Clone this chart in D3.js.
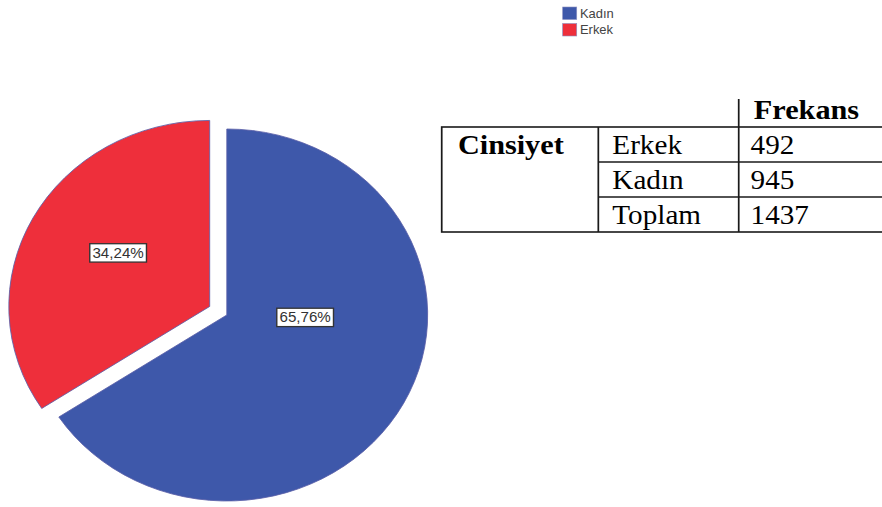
<!DOCTYPE html>
<html>
<head>
<meta charset="utf-8">
<script src="https://cdn.jsdelivr.net/npm/d3@7"></script>
<style>
  html, body { margin: 0; padding: 0; background: #fff; }
  #chart svg { display: block; }
</style>
</head>
<body>
<div id="chart"></div>
<script>
// data
const categories = ["Kadın", "Erkek"];
const counts = [945, 492];
const colors = ["#3e58aa", "#ee2f3b"];
const exploded = ["Erkek"];

const tableGroup = "Cinsiyet";
const tableHeader = "Frekans";
const tableRows = ["Erkek", "Kadın", "Toplam"];
const tableValues = [492, 945, 1437];

let width = 882,
    height = 507,
    stretch = 1.08,          // the original picture is a bit wider than tall
    vw = width / stretch;

const svg = d3.select("#chart")
  .append("svg")
  .attr("width", width)
  .attr("height", height)
  .attr("viewBox", [0, 0, vw, height])
  .attr("preserveAspectRatio", "none");

const data = categories.map((c, i) => ({ name: c, count: counts[i], color: colors[i] }));
const total = d3.sum(data, d => d.count);
const pct = v => d3.format(".2f")(v * 100).replace(".", ",") + "%";

// ---- pie
let cx = 210, cy = 315, r = 186, explode = 18;

const pie = d3.pie().sort(null).value(d => d.count);
const arc = d3.arc().innerRadius(0).outerRadius(r);
const arcs = pie(data);

const off = d => {
  if (!exploded.includes(d.data.name)) return [0, 0];
  const a = (d.startAngle + d.endAngle) / 2;
  return [Math.sin(a) * explode, -Math.cos(a) * explode];
};

const g = svg.append("g").attr("transform", `translate(${cx},${cy})`);

g.selectAll("path")
  .data(arcs)
  .join("path")
  .attr("transform", d => `translate(${off(d)})`)
  .attr("d", arc)
  .attr("fill", d => d.data.color)
  .attr("stroke", "#5a5ea8")
  .attr("stroke-width", 0.8);

// label spots: SPSS puts the big slice's label nearer the middle
const labelSpot = d => {
  const [ox, oy] = off(d);
  let a = (d.startAngle + d.endAngle) / 2 + 0.07, rr = 0.54 * r;
  if (d.endAngle - d.startAngle > Math.PI) { a = Math.PI / 2 + 0.03; rr = 0.39 * r; }
  return [ox + Math.sin(a) * rr, oy - Math.cos(a) * rr];
};

const labels = g.selectAll("g.lbl")
  .data(arcs)
  .join("g")
  .attr("class", "lbl")
  .attr("transform", d => `translate(${labelSpot(d)})`);

labels.append("rect").attr("class", "box");
labels.append("text")
  .attr("text-anchor", "middle")
  .attr("dy", "0.36em")
  .attr("font-family", "Liberation Sans, Arial, sans-serif")
  .attr("font-size", 14)
  .attr("fill", "#333")
  .text(d => pct(d.data.count / total));

labels.each(function() {
  const t = d3.select(this).select("text").node().getBBox();
  d3.select(this).select("rect")
    .attr("x", t.x - 2.5).attr("y", t.y - 1.5)
    .attr("width", t.width + 5).attr("height", t.height + 3)
    .attr("fill", "#fff")
    .attr("stroke", "#333")
    .attr("stroke-width", 1.3);
});

// ---- legend
const legend = svg.append("g")
  .attr("transform", "translate(521,7)")
  .selectAll("g")
  .data(data)
  .join("g")
  .attr("transform", (d, i) => `translate(0,${i * 16.5})`);

legend.append("rect")
  .attr("width", 13).attr("height", 12.5)
  .attr("fill", d => d.color)
  .attr("stroke", "#8a8fc0")
  .attr("stroke-width", 0.6);

legend.append("text")
  .attr("x", 16).attr("y", 11)
  .attr("font-family", "Liberation Sans, Arial, sans-serif")
  .attr("font-size", 12)
  .attr("fill", "#444")
  .text(d => d.name);

// ---- frequency table
let tLeft = 409, tCol1 = 554, tCol2 = 684, tRight = vw, tTop = 127, rowH = 35, headTop = 99;

const y = d3.scaleBand()
  .domain(tableRows)
  .range([tTop, tTop + rowH * tableRows.length]);

const tbl = svg.append("g")
  .attr("stroke", "#1a1a1a")
  .attr("stroke-width", 1.6)
  .attr("fill", "none");

tbl.append("rect")
  .attr("x", tLeft).attr("y", tTop)
  .attr("width", tRight - tLeft + 2).attr("height", y.range()[1] - tTop);
tbl.append("line").attr("x1", tCol1).attr("x2", tCol1).attr("y1", tTop).attr("y2", y.range()[1]);
tbl.append("line").attr("x1", tCol2).attr("x2", tCol2).attr("y1", headTop).attr("y2", y.range()[1]);
tbl.selectAll("line.row")
  .data(tableRows.slice(1))
  .join("line")
  .attr("class", "row")
  .attr("x1", tCol1).attr("x2", tRight)
  .attr("y1", d => y(d)).attr("y2", d => y(d));

const serif = "Liberation Serif, Times New Roman, serif";

svg.append("text")
  .attr("x", tCol2 + 14).attr("y", tTop - 8)
  .attr("font-family", serif).attr("font-size", 28).attr("font-weight", "bold")
  .text(tableHeader);

svg.append("text")
  .attr("x", tLeft + 15).attr("y", y(tableRows[0]) + 27)
  .attr("font-family", serif).attr("font-size", 28).attr("font-weight", "bold")
  .text(tableGroup);

svg.selectAll("text.rowname")
  .data(tableRows)
  .join("text")
  .attr("class", "rowname")
  .attr("x", tCol1 + 13).attr("y", d => y(d) + 27)
  .attr("font-family", serif).attr("font-size", 27)
  .text(d => d);

svg.selectAll("text.val")
  .data(tableValues)
  .join("text")
  .attr("class", "val")
  .attr("x", tCol2 + 11).attr("y", (d, i) => y(tableRows[i]) + 27)
  .attr("font-family", serif).attr("font-size", 27)
  .text(d => d);
</script>
</body>
</html>
